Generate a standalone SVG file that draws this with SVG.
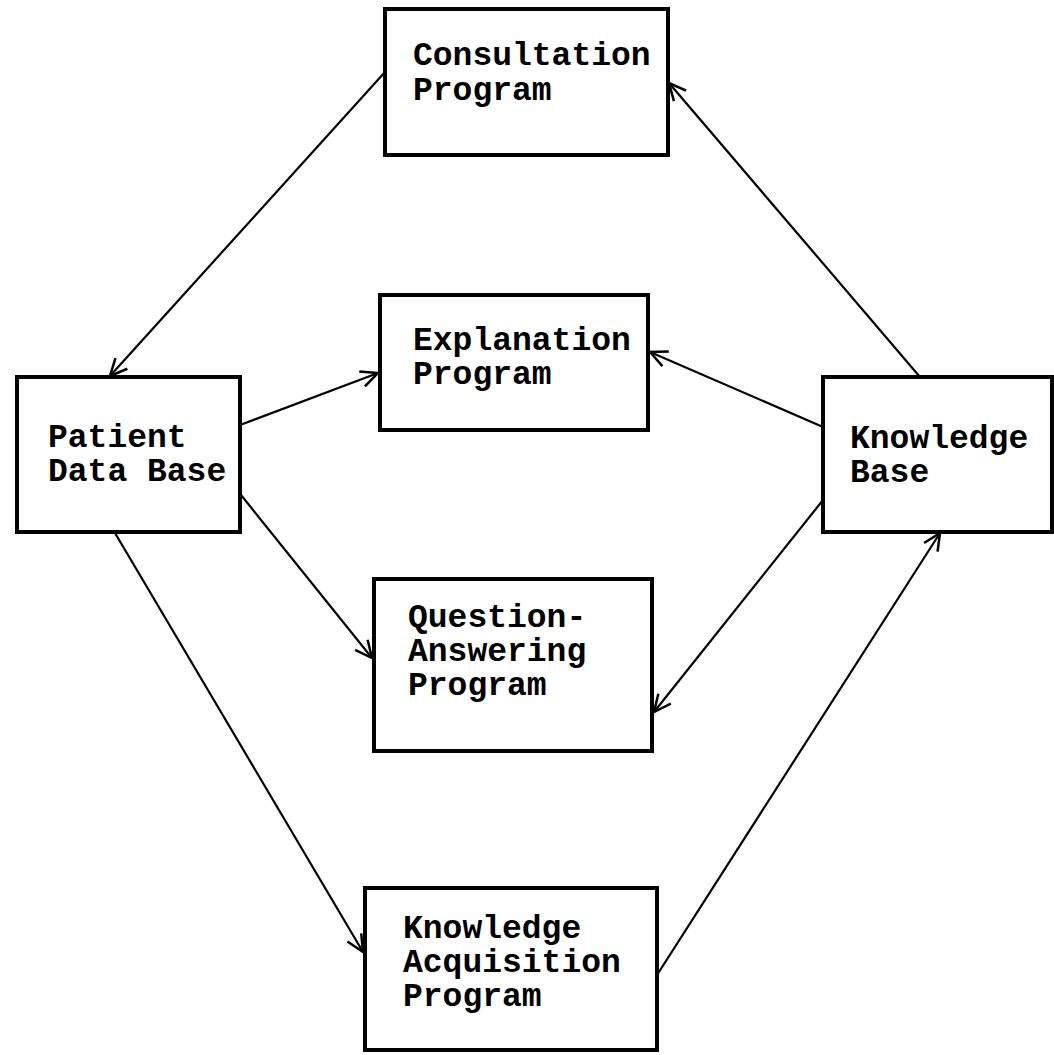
<svg xmlns="http://www.w3.org/2000/svg" width="1054" height="1055" viewBox="0 0 1054 1055">
<style>
.box{fill:#fff;stroke:#000;stroke-width:4}
.lbl{font-family:"Liberation Mono","Courier New",monospace;font-weight:bold;font-size:33px;fill:#000}
#connectors line{stroke:#000;stroke-width:2.2;fill:none;marker-end:url(#arr)}
</style>
<defs>
<marker id="arr" viewBox="0 0 20 20" refX="19" refY="10" markerWidth="20" markerHeight="20" markerUnits="userSpaceOnUse" orient="auto">
<path d="M2,2 L19,10 L2,18" fill="none" stroke="#000" stroke-width="2.5"/>
</marker>
</defs>
<rect width="1054" height="1055" fill="#fff"/>
<g id="connectors">
<line x1="385" y1="72" x2="110" y2="376"/>
<line x1="920" y1="377" x2="669" y2="83"/>
<line x1="240" y1="425" x2="378" y2="373"/>
<line x1="823" y1="427" x2="650" y2="352"/>
<line x1="237" y1="490" x2="372" y2="658"/>
<line x1="823" y1="500" x2="654" y2="712"/>
<line x1="115" y1="533" x2="363" y2="952"/>
<line x1="657" y1="975" x2="940" y2="533"/>
</g>
<g id="consultation">
<rect class="box" x="385" y="9" width="283" height="146"/>
<text class="lbl" x="413" y="65">Consultation</text>
<text class="lbl" x="413" y="100">Program</text>
</g>
<g id="explanation">
<rect class="box" x="380" y="295" width="268" height="135"/>
<text class="lbl" x="413" y="350">Explanation</text>
<text class="lbl" x="413" y="384">Program</text>
</g>
<g id="patient">
<rect class="box" x="17" y="377" width="223" height="155"/>
<text class="lbl" x="48" y="447">Patient</text>
<text class="lbl" x="48" y="481">Data Base</text>
</g>
<g id="knowledge-base">
<rect class="box" x="823" y="377" width="229" height="155"/>
<text class="lbl" x="850" y="448">Knowledge</text>
<text class="lbl" x="850" y="482">Base</text>
</g>
<g id="question-answering">
<rect class="box" x="374" y="579" width="278" height="172"/>
<text class="lbl" x="408" y="627">Question-</text>
<text class="lbl" x="408" y="661">Answering</text>
<text class="lbl" x="408" y="695">Program</text>
</g>
<g id="knowledge-acquisition">
<rect class="box" x="365" y="888" width="292" height="162"/>
<text class="lbl" x="403" y="938">Knowledge</text>
<text class="lbl" x="403" y="972">Acquisition</text>
<text class="lbl" x="403" y="1006">Program</text>
</g>
</svg>
